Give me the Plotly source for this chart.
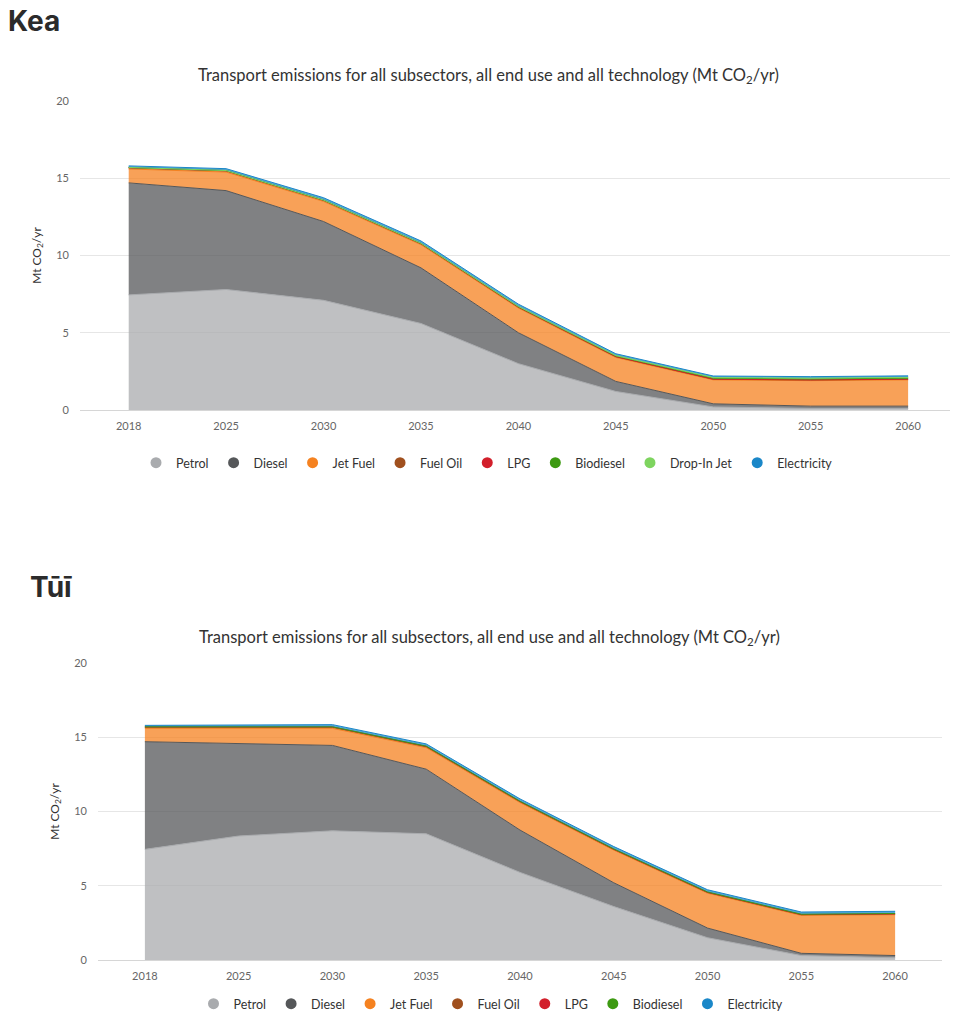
import plotly.graph_objects as go

years = ["2018", "2025", "2030", "2035", "2040", "2045", "2050", "2055", "2060"]

fuels = ["Petrol", "Diesel", "Jet Fuel", "Fuel Oil", "LPG", "Biodiesel", "Drop-In Jet", "Electricity"]
fuel_colors = ["#a9abae", "#555759", "#f58220", "#a0501e", "#d21f2b", "#3d9a12", "#7ed45f", "#1a87c8"]

# Kea scenario (Mt CO2/yr)
kea_petrol = [7.45, 7.8, 7.1, 5.6, 3.0, 1.2, 0.2, 0.1, 0.1]
kea_diesel = [7.25, 6.4, 5.1, 3.6, 2.0, 0.65, 0.2, 0.15, 0.15]
kea_jet = [0.9, 1.2, 1.3, 1.5, 1.6, 1.55, 1.55, 1.65, 1.7]
kea_fueloil = [0.08, 0.08, 0.07, 0.06, 0.05, 0.05, 0.04, 0.04, 0.04]
kea_lpg = [0.02, 0.02, 0.02, 0.02, 0.02, 0.01, 0.01, 0.01, 0.01]
kea_biodiesel = [0.0, 0.0, 0.0, 0.01, 0.02, 0.04, 0.06, 0.06, 0.06]
kea_dropin = [0.0, 0.0, 0.0, 0.0, 0.01, 0.02, 0.04, 0.05, 0.05]
kea_electricity = [0.1, 0.12, 0.15, 0.15, 0.15, 0.12, 0.1, 0.1, 0.1]

# Tui scenario (Mt CO2/yr)
tui_petrol = [7.45, 8.35, 8.7, 8.5, 5.9, 3.6, 1.5, 0.3, 0.15]
tui_diesel = [7.25, 6.2, 5.75, 4.35, 2.85, 1.6, 0.65, 0.15, 0.15]
tui_jet = [0.9, 1.05, 1.15, 1.45, 1.85, 2.2, 2.35, 2.55, 2.75]
tui_fueloil = [0.08, 0.08, 0.08, 0.07, 0.06, 0.05, 0.05, 0.05, 0.05]
tui_lpg = [0.02, 0.02, 0.02, 0.02, 0.02, 0.01, 0.01, 0.01, 0.01]
tui_biodiesel = [0.0, 0.0, 0.0, 0.01, 0.01, 0.02, 0.02, 0.02, 0.02]
tui_electricity = [0.1, 0.12, 0.15, 0.15, 0.16, 0.16, 0.15, 0.15, 0.15]

kea_series = [kea_petrol, kea_diesel, kea_jet, kea_fueloil, kea_lpg, kea_biodiesel, kea_dropin, kea_electricity]
kea_names = fuels
tui_series = [tui_petrol, tui_diesel, tui_jet, tui_fueloil, tui_lpg, tui_biodiesel, tui_electricity]
tui_names = ["Petrol", "Diesel", "Jet Fuel", "Fuel Oil", "LPG", "Biodiesel", "Electricity"]

chart_title = "Transport emissions for all subsectors, all end use and all technology (Mt CO<sub>2</sub>/yr)"
y_title = "Mt CO<sub>2</sub>/yr"

W, H = 956, 1019


def xp(px):
    return min(1.0, max(0.0, px / W))


def yp(py):
    return min(1.0, max(0.0, 1 - py / H))


def rgba(hexc, a):
    h = hexc.lstrip("#")
    r, g, b = int(h[0:2], 16), int(h[2:4], 16), int(h[4:6], 16)
    return f"rgba({r},{g},{b},{a})"


color_of = dict(zip(fuels, fuel_colors))

fig = go.Figure()

FONT = "Lato"

for names, series, xa, ya, sg, lg in [
    (kea_names, kea_series, "x", "y", "kea", "legend"),
    (tui_names, tui_series, "x2", "y2", "tui", "legend2"),
]:
    for name, vals in zip(names, series):
        c = color_of[name]
        fig.add_trace(go.Scatter(
            x=years, y=vals, name=name, mode="lines", stackgroup=sg,
            line=dict(color=c, width=1), fillcolor=rgba(c, 0.75),
            xaxis=xa, yaxis=ya, showlegend=False,
        ))
    for name in names:
        c = color_of[name]
        fig.add_trace(go.Scatter(
            x=[None], y=[None], name=name, mode="markers",
            marker=dict(color=c, size=11, symbol="circle"),
            xaxis=xa, yaxis=ya, legend=lg, showlegend=True,
        ))

axis_common_x = dict(
    type="category", showgrid=False, showline=True, linecolor="#d6d6d6", linewidth=1,
    ticks="", tickfont=dict(family=FONT, size=11, color="#666666"), zeroline=False,
    fixedrange=True, ticklabelstandoff=6, automargin=False,
)
axis_common_y = dict(
    range=[0, 20], dtick=5, showgrid=True, gridcolor="#e6e6e6", gridwidth=1, zeroline=False,
    showline=False, ticks="", tickfont=dict(family=FONT, size=11, color="#666666"),
    ticklabelstandoff=10, automargin=False, fixedrange=True,
)

legend_common = dict(orientation="h", xanchor="center", yanchor="middle", traceorder="normal",
                     font=dict(family=FONT, size=12.5, color="#333333"), itemsizing="trace",
                     bgcolor="rgba(0,0,0,0)")

fig.update_layout(
    width=W, height=H,
    margin=dict(l=0, r=0, t=0, b=0),
    paper_bgcolor="white", plot_bgcolor="white",
    font=dict(family=FONT, color="#333333"),
    xaxis=dict(domain=[xp(80), xp(950)], range=[-0.5, 8.43], anchor="y", **axis_common_x),
    yaxis=dict(domain=[yp(410), yp(101)], anchor="x",
               title=dict(text=y_title, font=dict(family=FONT, size=12, color="#333333"), standoff=12),
               **axis_common_y),
    xaxis2=dict(domain=[xp(98), xp(942)], range=[-0.5, 8.5], anchor="y2", **axis_common_x),
    yaxis2=dict(domain=[yp(960), yp(663)], anchor="x2",
                title=dict(text=y_title, font=dict(family=FONT, size=12, color="#333333"), standoff=12),
                **axis_common_y),
    legend=dict(x=xp(487), y=yp(463), **legend_common),
    legend2=dict(x=xp(491), y=yp(1004), **legend_common),
    annotations=[
        dict(text="<b>Kea</b>", x=xp(6), y=yp(21), xref="paper", yref="paper", xanchor="left",
             yanchor="middle", showarrow=False, font=dict(family="Inter", size=28, color="#2b2b2b")),
        dict(text="<b>Tūī</b>", x=xp(28), y=yp(587), xref="paper", yref="paper", xanchor="left",
             yanchor="middle", showarrow=False, font=dict(family="Inter", size=28, color="#2b2b2b")),
        dict(text=chart_title, x=xp(488), y=yp(75), xref="paper", yref="paper", xanchor="center",
             yanchor="middle", showarrow=False, font=dict(family=FONT, size=16.5, color="#333333")),
        dict(text=chart_title, x=xp(489), y=yp(637), xref="paper", yref="paper", xanchor="center",
             yanchor="middle", showarrow=False, font=dict(family=FONT, size=16.5, color="#333333")),
    ],
)

fig.write_html("out.html", config={"displayModeBar": False},
               post_script="document.body.style.margin='0';document.body.style.overflow='hidden';")
